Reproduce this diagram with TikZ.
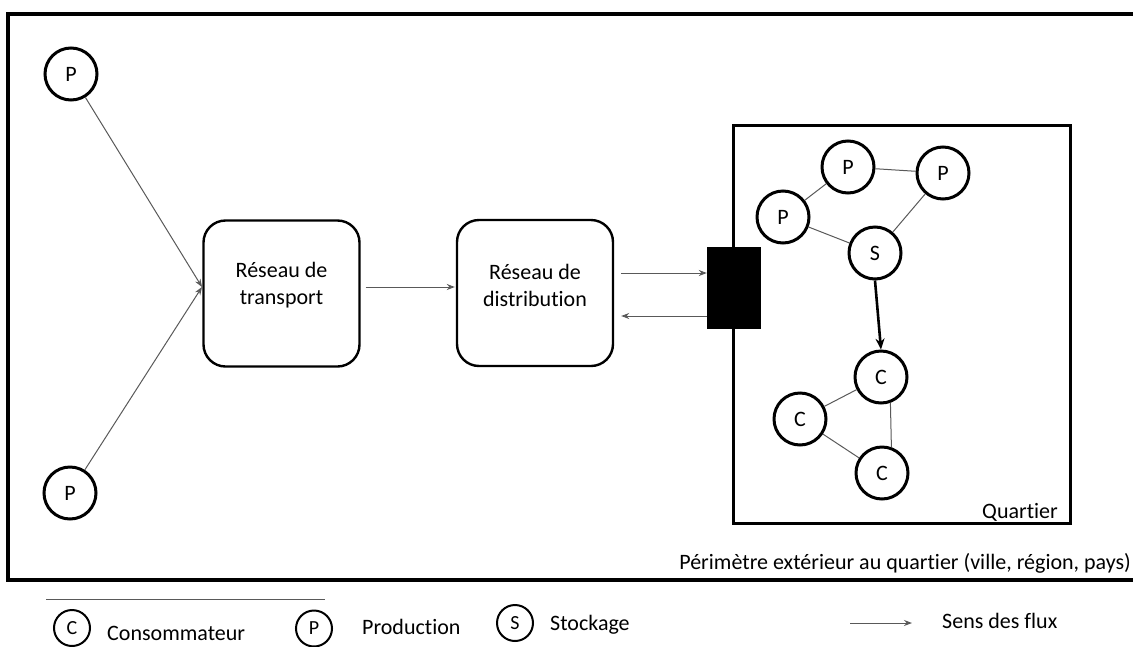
\documentclass[tikz,border=0pt]{standalone}
\usepackage{fontspec}
\setmainfont[Ligatures=NoCommon]{Carlito}
\usetikzlibrary{arrows.meta}
\begin{document}
\begin{tikzpicture}[x=1pt,y=-1pt,
  circ/.style={circle,draw,line width=3pt,minimum size=52pt,inner sep=0pt,font=\fontsize{22}{26}\selectfont},
  lcirc/.style={circle,draw,line width=2pt,minimum size=36pt,inner sep=0pt,font=\fontsize{20}{24}\selectfont},
  netbox/.style={draw,line width=2.4pt,rounded corners=22pt,minimum width=156pt,minimum height=146pt},
  lbl/.style={font=\fontsize{22}{27}\selectfont,inner sep=0pt},
  thinl/.style={draw=black!65,line width=1pt},
  flow/.style={thinl,-{Stealth[length=8pt,width=6pt]}},
  bigflow/.style={draw=black,line width=2.6pt,-{Stealth[length=11pt,width=9pt]}}
]
\useasboundingbox (0,0) rectangle (1133,646);

% outer perimeter (right side falls outside the picture)
\coordinate (o1) at (1133,14);
\coordinate (o2) at (8,14);
\coordinate (o3) at (8,580);
\coordinate (o4) at (1133,580);
\draw[line width=3.4pt] (o1) -- (o2) -- (o3) -- (o4);

% left producers
\node[circ] (PA) at (71,74) {P};
\node[circ] (PB) at (70,493) {P};

% networks
\node[netbox] (T) at (281.5,293.5) {};
\node[lbl,align=center] (Tt) at (281.5,285) {Réseau de\\transport};
\node[netbox] (D) at (535,293) {};
\node[lbl,align=center] (Dt) at (535,285) {Réseau de\\distribution};

\coordinate (tin) at (202,287);
\draw[flow] (PA) -- (tin);
\draw[flow] (PB) -- (tin);
\draw[flow] ([xshift=5pt,yshift=6.5pt]T.east) -- ([xshift=-1pt,yshift=6pt]D.west);

% quartier
\node[draw,line width=3pt,minimum width=337pt,minimum height=398pt,inner sep=0pt] (Q) at (901.5,324) {};
\node[lbl,anchor=base east] (Qt) at (1058,518) {Quartier};

% interface block
\node[fill=black,draw=black,minimum width=53pt,minimum height=81pt,inner sep=0pt] (G) at (733.5,287.5) {};
\draw[flow] ([xshift=7pt,yshift=20pt]D.east) -- ([yshift=14.5pt]G.west);
\draw[flow] ([yshift=-28.5pt]G.west) -- ([xshift=7pt,yshift=-23pt]D.east);

% quartier circles
\node[circ] (QP1) at (848,167) {P};
\node[circ] (QP2) at (943,173) {P};
\node[circ] (QP3) at (783,217) {P};
\node[circ] (QS) at (875,253) {S};
\node[circ] (QC1) at (881,377) {C};
\node[circ] (QC2) at (800,419) {C};
\node[circ] (QC3) at (882,473) {C};

\draw[thinl] (QP3) -- (QP1);
\draw[thinl] (QP1) -- (QP2);
\draw[thinl] (QP2) -- (QS);
\draw[thinl] (QP3) -- (QS);
\draw[thinl] (QC1) -- (QC2);
\draw[thinl] (QC2) -- (QC3);
\draw[thinl] (QC1.-70) -- (QC3.70);
\draw[bigflow] (QS.south) -- (QC1.north);

\node[lbl,anchor=base east] (Pt) at (1131,569) {Périmètre extérieur au quartier (ville, région, pays)};

% legend
\coordinate (la) at (46,599);
\coordinate (lb) at (325,599);
\draw[thinl] (la) -- (lb);
\node[lcirc] (LC) at (72,628) {C};
\node[lbl,anchor=base west] (LCt) at (107,640) {Consommateur};
\node[lcirc] (LP) at (314,628.5) {P};
\node[lbl,anchor=base west] (LPt) at (362,634) {Production};
\node[lcirc] (LS) at (515,623) {S};
\node[lbl,anchor=base west] (LSt) at (550,630) {Stockage};
\coordinate (fs) at (850,623);
\coordinate (fe) at (912,623);
\draw[flow] (fs) -- (fe);
\node[lbl,anchor=base west] (Ft) at (942,628) {Sens des flux};
\end{tikzpicture}
\end{document}
